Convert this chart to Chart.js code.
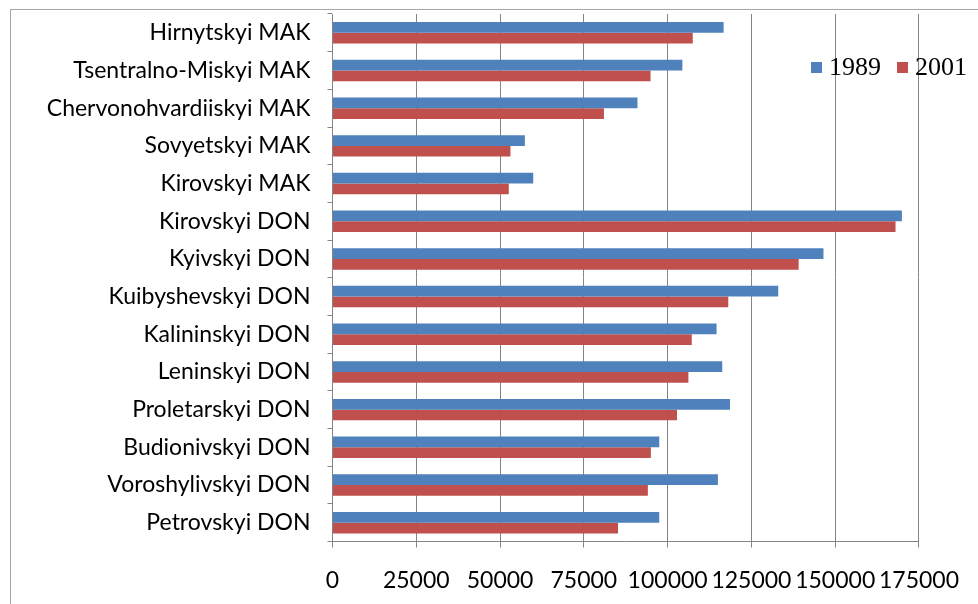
<!DOCTYPE html>
<html>
<head>
<meta charset="utf-8">
<script src="https://cdn.jsdelivr.net/npm/chart.js@4.4.1/dist/chart.umd.min.js"></script>
<style>
  html, body { margin: 0; padding: 0; background: #fff; }
  #wrap { position: relative; width: 978px; height: 604px; overflow: hidden; }
  #c { position: absolute; left: 0; top: 0; }
  #legend { position: absolute; left: 811px; top: 52px; display: flex; align-items: center;
            font-family: "Liberation Serif", serif; font-size: 26px; color: #000; }
  .item { display: flex; align-items: center; margin-right: 16px; }
  .sw { width: 11px; height: 11px; margin-right: 7px; }
</style>
</head>
<body>
<div id="wrap">
  <canvas id="c" width="978" height="604"></canvas>
  <div id="legend"></div>
</div>
<script>
const categories = [
  "Hirnytskyi MAK", "Tsentralno-Miskyi MAK", "Chervonohvardiiskyi MAK", "Sovyetskyi MAK",
  "Kirovskyi MAK", "Kirovskyi DON", "Kyivskyi DON", "Kuibyshevskyi DON", "Kalininskyi DON",
  "Leninskyi DON", "Proletarskyi DON", "Budionivskyi DON", "Voroshylivskyi DON", "Petrovskyi DON"
];
const values1989 = [116700, 104400, 91000, 57400, 59900, 169900, 146500, 133000, 114600, 116300, 118600, 97500, 115000, 97500];
const values2001 = [107500, 94900, 81000, 53100, 52600, 168000, 139100, 118100, 107200, 106200, 102800, 95000, 94100, 85200];
const seriesNames = ["1989", "2001"];
const seriesColors = ["#4F81BD", "#C0504D"];
const xTicks = [0, 25000, 50000, 75000, 100000, 125000, 150000, 175000];

const borderPlugin = {
  id: 'outerBorder',
  beforeDraw(chart) {
    const ctx = chart.ctx;
    ctx.save();
    ctx.fillStyle = '#ffffff';
    ctx.fillRect(0, 0, chart.width, chart.height);
    ctx.strokeStyle = '#a6a6a6';
    ctx.lineWidth = 1;
    ctx.strokeRect(10.5, 9.5, 1000, 1000);
    ctx.restore();
  }
};

const chart = new Chart(document.getElementById('c'), {
  type: 'bar',
  data: {
    labels: categories,
    datasets: [
      { label: seriesNames[0], data: values1989, backgroundColor: seriesColors[0] },
      { label: seriesNames[1], data: values2001, backgroundColor: seriesColors[1] }
    ]
  },
  options: {
    indexAxis: 'y',
    responsive: false,
    animation: false,
    devicePixelRatio: 1,
    layout: { padding: { left: 0, right: 52, top: 14, bottom: 0 } },
    datasets: { bar: { categoryPercentage: 0.57, barPercentage: 1.0 } },
    plugins: { legend: { display: false }, tooltip: { enabled: false } },
    scales: {
      x: {
        type: 'linear',
        min: 0, max: 175000,
        afterBuildTicks(scale) { scale.ticks = xTicks.map(v => ({ value: v })); },
        afterFit(scale) { scale.height = 62.5; },
        grid: { color: '#858585', lineWidth: 1, drawTicks: true, tickLength: 6, tickColor: '#858585' },
        border: { display: true, color: '#858585' },
        ticks: {
          color: '#000', padding: 19, maxRotation: 0, autoSkip: false,
          font: { family: 'Lato', size: 23 },
          callback: v => String(v)
        }
      },
      y: {
        afterFit(scale) { scale.width = 332.5; scale.paddingTop = 0; scale.paddingBottom = 0; },
        grid: { drawOnChartArea: false, drawTicks: true, tickLength: 5, color: '#858585', offset: true },
        border: { display: true, color: '#858585' },
        ticks: {
          color: '#000', padding: 17, autoSkip: false,
          font: { family: 'Lato', size: 23 }
        }
      }
    }
  },
  plugins: [borderPlugin]
});

const legend = document.getElementById('legend');
seriesNames.forEach((n, i) => {
  const it = document.createElement('div');
  it.className = 'item';
  const sw = document.createElement('span');
  sw.className = 'sw';
  sw.style.background = seriesColors[i];
  const t = document.createElement('span');
  t.textContent = n;
  it.appendChild(sw); it.appendChild(t);
  legend.appendChild(it);
});
</script>
</body>
</html>
